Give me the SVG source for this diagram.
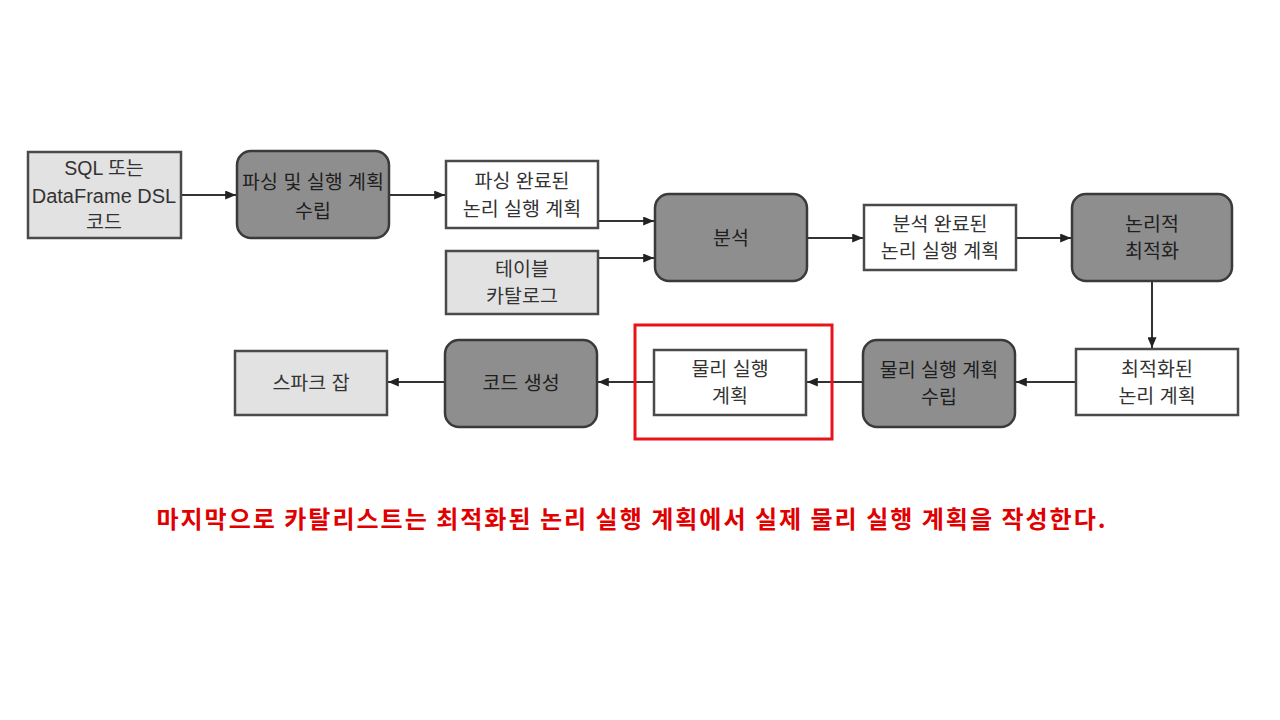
<svg xmlns="http://www.w3.org/2000/svg" width="1280" height="720" viewBox="0 0 1280 720">
<defs>
<marker id="ah" viewBox="0 0 12 10" refX="12" refY="5" markerWidth="12" markerHeight="9" markerUnits="userSpaceOnUse" orient="auto"><path d="M0,0 L12,5 L0,10 z" fill="#222"/></marker>
<style>
.lt{fill:#e2e2e2;stroke:#4a4a4a;stroke-width:2.5}
.wh{fill:#ffffff;stroke:#4a4a4a;stroke-width:2.5}
.dk{fill:#8e8e8e;stroke:#3a3a3a;stroke-width:2.5}
text{font-family:"Liberation Sans","Noto Sans CJK KR",sans-serif;font-size:19.5px;fill:#333;text-anchor:middle;dominant-baseline:central}
.dkt{fill:#1e1e1e}
.c{stroke:#333;stroke-width:2;fill:none;marker-end:url(#ah)}
.cap{font-family:"Noto Sans CJK KR",sans-serif;font-size:24px;font-weight:bold;fill:#e00000;letter-spacing:2px}
</style>
</defs>
<rect width="1280" height="720" fill="#fff"/>
<g id="connectors">
<line class="c" x1="181" y1="195" x2="236" y2="195"/>
<line class="c" x1="389" y1="195" x2="445" y2="195"/>
<line class="c" x1="598" y1="221" x2="654" y2="221"/>
<line class="c" x1="598" y1="258" x2="654" y2="258"/>
<line class="c" x1="807" y1="238" x2="863" y2="238"/>
<line class="c" x1="1016" y1="238" x2="1071" y2="238"/>
<line class="c" x1="1152" y1="281" x2="1152" y2="348"/>
<line class="c" x1="1076" y1="382" x2="1016" y2="382"/>
<line class="c" x1="863" y1="382" x2="807" y2="382"/>
<line class="c" x1="654" y1="382" x2="598" y2="382"/>
<line class="c" x1="445" y1="382" x2="388" y2="382"/>
</g>
<g id="n1"><rect class="lt" x="28" y="152" width="153" height="86"/>
<text x="104" y="168">SQL 또는</text><text x="104" y="196" style="font-size:20px">DataFrame DSL</text><text x="104" y="222">코드</text></g>
<g id="n2"><rect class="dk" x="237" y="151" width="152" height="87" rx="14"/>
<text class="dkt" x="313" y="182">파싱 및 실행 계획</text><text class="dkt" x="313" y="211">수립</text></g>
<g id="n3"><rect class="wh" x="446" y="161" width="152" height="67"/>
<text x="522" y="181">파싱 완료된</text><text x="522" y="209">논리 실행 계획</text></g>
<g id="n4"><rect class="lt" x="446" y="251" width="152" height="63"/>
<text x="522" y="269">테이블</text><text x="522" y="296">카탈로그</text></g>
<g id="n5"><rect class="dk" x="655" y="194" width="152" height="87" rx="14"/>
<text class="dkt" x="731" y="238">분석</text></g>
<g id="n6"><rect class="wh" x="864" y="205" width="152" height="65"/>
<text x="940" y="224">분석 완료된</text><text x="940" y="251">논리 실행 계획</text></g>
<g id="n7"><rect class="dk" x="1072" y="194" width="160" height="87" rx="14"/>
<text class="dkt" x="1152" y="224">논리적</text><text class="dkt" x="1152" y="251">최적화</text></g>
<g id="n8"><rect class="wh" x="1076" y="349" width="162" height="66"/>
<text x="1157" y="369">최적화된</text><text x="1157" y="396">논리 계획</text></g>
<g id="n9"><rect class="dk" x="863" y="340" width="152" height="87" rx="14"/>
<text class="dkt" x="939" y="370">물리 실행 계획</text><text class="dkt" x="939" y="397">수립</text></g>
<g id="n10"><rect class="wh" x="654" y="350" width="152" height="65"/>
<text x="730" y="369">물리 실행</text><text x="730" y="396">계획</text></g>
<g id="n11"><rect class="dk" x="445" y="340" width="152" height="87" rx="14"/>
<text class="dkt" x="521" y="383">코드 생성</text></g>
<g id="n12"><rect class="lt" x="235" y="351" width="152" height="64"/>
<text x="311" y="383">스파크 잡</text></g>
<g id="highlight"><rect x="635" y="325" width="197" height="114" fill="none" stroke="#e8141c" stroke-width="3"/></g>
<g id="caption"><text class="cap" x="632" y="517">마지막으로 카탈리스트는 최적화된 논리 실행 계획에서 실제 물리 실행 계획을 작성한다.</text></g>
</svg>
